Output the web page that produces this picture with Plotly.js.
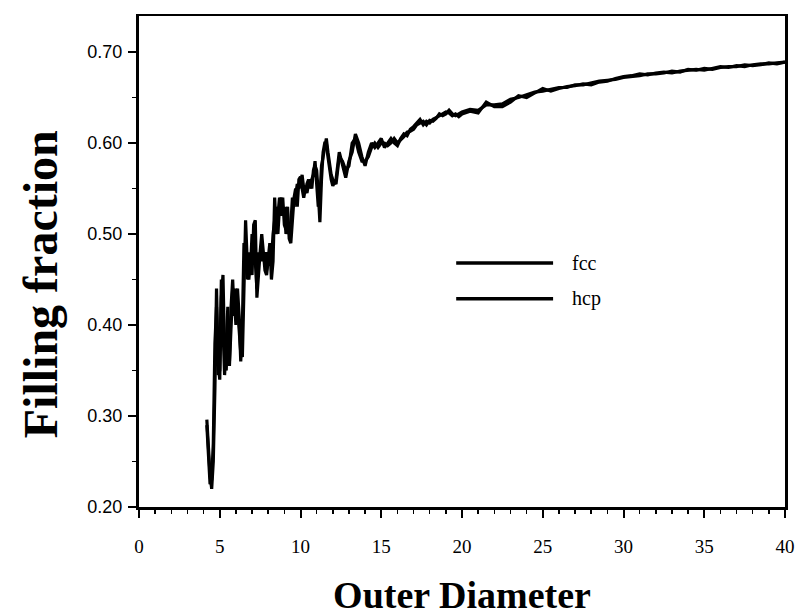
<!DOCTYPE html>
<html>
<head>
<meta charset="utf-8">
<script src="https://cdn.plot.ly/plotly-3.0.1.min.js"></script>
<style>html,body{margin:0;padding:0;background:#fff;}#chart{width:800px;height:616px;}</style>
</head>
<body>
<div id="chart"></div>
<script>
// Outer diameter values (shared by both series)
var diameter = [
4.2,4.3,4.4,4.5,4.6,4.7,4.8,4.9,5.0,5.1,5.2,5.3,5.4,5.5,5.6,5.7,5.8,5.9,6.0,6.1,
6.2,6.3,6.4,6.5,6.6,6.7,6.8,6.9,7.0,7.1,7.2,7.3,7.4,7.5,7.6,7.7,7.8,7.9,8.0,8.1,
8.2,8.3,8.4,8.5,8.6,8.7,8.8,8.9,9.0,9.1,9.2,9.3,9.4,9.5,9.6,9.7,9.8,9.9,10.0,10.1,
10.2,10.3,10.4,10.5,10.6,10.7,10.8,10.9,11.0,11.1,11.2,11.3,11.4,11.5,11.6,11.7,11.8,11.9,12.0,
12.2,12.4,12.6,12.8,13.0,13.2,13.4,13.6,13.8,14.0,14.2,14.4,14.6,14.8,15.0,15.2,15.4,15.6,15.8,16.0,
16.2,16.4,16.6,16.8,17.0,17.2,17.4,17.6,17.8,18.0,18.2,18.4,18.6,18.8,19.0,19.2,19.4,19.6,19.8,20.0,
20.5,21.0,21.5,22.0,22.5,23.0,23.5,24.0,24.5,25.0,25.5,26.0,26.5,27.0,27.5,28.0,28.5,29.0,29.5,30.0,
30.5,31.0,31.5,32.0,32.5,33.0,33.5,34.0,34.5,35.0,35.5,36.0,36.5,37.0,37.5,38.0,38.5,39.0,39.5,40.0
];

// Filling fraction, fcc packing
var fcc = [
0.296,0.26,0.235,0.22,0.25,0.33,0.44,0.36,0.34,0.43,0.455,0.37,0.35,0.40,0.36,0.42,0.45,0.41,0.44,0.42,
0.39,0.37,0.365,0.45,0.515,0.47,0.45,0.47,0.455,0.51,0.515,0.43,0.46,0.48,0.50,0.48,0.46,0.455,0.47,0.49,
0.45,0.47,0.54,0.50,0.52,0.54,0.52,0.54,0.51,0.505,0.53,0.495,0.49,0.52,0.54,0.55,0.53,0.56,0.563,0.55,
0.54,0.55,0.545,0.555,0.56,0.55,0.57,0.575,0.57,0.545,0.513,0.56,0.59,0.60,0.60,0.585,0.57,0.56,0.553,
0.56,0.59,0.575,0.562,0.58,0.59,0.61,0.60,0.585,0.575,0.59,0.60,0.595,0.60,0.605,0.595,0.60,0.605,0.60,0.597,
0.605,0.61,0.608,0.615,0.618,0.622,0.626,0.62,0.624,0.622,0.626,0.628,0.63,0.633,0.634,0.633,0.63,0.632,0.629,0.632,
0.635,0.633,0.645,0.64,0.64,0.645,0.652,0.65,0.655,0.66,0.657,0.66,0.662,0.663,0.665,0.664,0.667,0.668,0.671,0.673,
0.674,0.676,0.675,0.677,0.678,0.677,0.679,0.68,0.681,0.68,0.682,0.684,0.683,0.685,0.684,0.686,0.687,0.687,0.688,0.689
];

// Filling fraction, hcp packing
var hcp = [
0.29,0.25,0.225,0.23,0.27,0.38,0.42,0.345,0.35,0.45,0.40,0.345,0.38,0.42,0.355,0.39,0.44,0.43,0.40,0.44,
0.41,0.36,0.40,0.49,0.48,0.45,0.48,0.46,0.50,0.48,0.47,0.44,0.48,0.47,0.49,0.47,0.48,0.46,0.48,0.47,
0.47,0.50,0.52,0.53,0.50,0.53,0.54,0.52,0.53,0.50,0.51,0.50,0.51,0.54,0.53,0.545,0.555,0.55,0.555,0.565,
0.55,0.545,0.555,0.56,0.55,0.56,0.565,0.58,0.56,0.53,0.54,0.575,0.585,0.595,0.605,0.59,0.575,0.565,0.56,
0.555,0.585,0.58,0.57,0.575,0.60,0.605,0.59,0.58,0.58,0.585,0.595,0.60,0.595,0.60,0.60,0.597,0.60,0.605,0.60,
0.603,0.607,0.612,0.613,0.615,0.62,0.622,0.624,0.62,0.625,0.624,0.627,0.632,0.63,0.632,0.636,0.632,0.63,0.632,0.634,
0.637,0.636,0.642,0.642,0.643,0.648,0.65,0.653,0.656,0.657,0.659,0.661,0.661,0.664,0.664,0.666,0.668,0.669,0.67,0.672,
0.673,0.674,0.676,0.676,0.677,0.679,0.678,0.681,0.68,0.682,0.681,0.683,0.684,0.684,0.686,0.685,0.686,0.688,0.687,0.689
];

var seriesNames = ["fcc", "hcp"];
var xTickVals = [0,5,10,15,20,25,30,35,40];
var yTickVals = [0.20,0.30,0.40,0.50,0.60,0.70];
var yTickText = ["0.20","0.30","0.40","0.50","0.60","0.70"];

var serif = 'Liberation Serif, Times New Roman, serif';

var traces = [
  {x: diameter, y: fcc, name: seriesNames[0], type: 'scatter', mode: 'lines',
   line: {color: '#000', width: 3.2}, showlegend: false},
  {x: diameter, y: hcp, name: seriesNames[1], type: 'scatter', mode: 'lines',
   line: {color: '#000', width: 3.2}, showlegend: false}
];

var legY = [0.497, 0.424];
var shapes = [], annotations = [];
for (var i = 0; i < seriesNames.length; i++) {
  shapes.push({type: 'line', xref: 'paper', yref: 'paper', x0: 0.491, x1: 0.641,
    y0: legY[i], y1: legY[i], line: {color: '#000', width: 3.5}});
  annotations.push({xref: 'paper', yref: 'paper', x: 0.667, y: legY[i], xanchor: 'left',
    yanchor: 'middle', text: seriesNames[i], showarrow: false,
    font: {family: serif, size: 20, color: '#000'}});
}
// y-axis title (placed slightly below plot centre, as in the original)
annotations.push({xref: 'paper', yref: 'paper', x: -0.153, y: 0.454, xanchor: 'center',
  yanchor: 'middle', textangle: -90, text: 'Filling fraction', showarrow: false,
  font: {family: serif, size: 48, color: '#000', weight: 'bold'}});

var layout = {
  width: 800, height: 616,
  margin: {l: 139, r: 15, t: 16, b: 109},
  paper_bgcolor: '#fff', plot_bgcolor: '#fff',
  showlegend: false,
  xaxis: {
    range: [0, 40], tickvals: xTickVals, ticks: 'outside', ticklen: 8, tickwidth: 2,
    tickcolor: '#000', showline: true, linecolor: '#000', linewidth: 2.5, mirror: true,
    showgrid: false, zeroline: false, ticklabelstandoff: 13,
    minor: {dtick: 1, ticks: 'outside', ticklen: 4, tickwidth: 1.5, tickcolor: '#000'},
    tickfont: {family: serif, size: 19, color: '#000'},
    title: {text: 'Outer Diameter', standoff: 30,
      font: {family: serif, size: 38, color: '#000', weight: 'bold'}}
  },
  yaxis: {
    range: [0.20, 0.7396], tickvals: yTickVals, ticktext: yTickText, ticks: 'outside', ticklen: 8,
    tickwidth: 2, tickcolor: '#000', showline: true, linecolor: '#000', linewidth: 3, mirror: true,
    showgrid: false, zeroline: false, ticklabelstandoff: 2,
    minor: {dtick: 0.05, ticks: 'outside', ticklen: 4, tickwidth: 1.5, tickcolor: '#000'},
    tickfont: {family: 'Liberation Sans, Arial, sans-serif', size: 18, color: '#000'}
  },
  shapes: shapes,
  annotations: annotations
};

Plotly.newPlot('chart', traces, layout, {staticPlot: true, displayModeBar: false});
</script>
</body>
</html>
